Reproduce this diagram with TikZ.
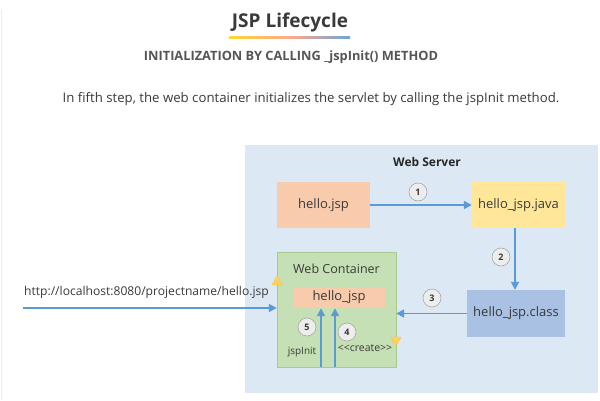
\documentclass[tikz,border=0pt]{standalone}
\usepackage{fontspec}
\setmainfont{Open Sans}
\usetikzlibrary{arrows.meta,shapes.geometric}
\definecolor{srvbg}{HTML}{DCE9F5}
\definecolor{jspor}{HTML}{F8CBAD}
\definecolor{javay}{HTML}{FFE699}
\definecolor{clsbl}{HTML}{A9C1E3}
\definecolor{wcgr}{HTML}{C5E0B4}
\definecolor{wcbd}{HTML}{A9C98F}
\definecolor{arrbl}{HTML}{5B9BD5}
\definecolor{txtd}{HTML}{3A3A3A}
\definecolor{subg}{HTML}{555555}
\definecolor{circf}{HTML}{EDEDED}
\definecolor{trig}{HTML}{FFD54F}
\tikzset{
  px/.style={x=1pt,y=-1pt},
  filebox/.style={minimum width=#1, inner sep=0pt, font=\fontsize{13}{15}\selectfont, text=txtd},
  conn/.style={draw=arrbl, line width=1.7pt, -{Triangle[length=8pt,width=8pt]}},
  stepnum/.style={circle, draw=gray!70, line width=0.6pt, fill=circf, minimum size=18pt, inner sep=0pt, font=\fontsize{9}{10}\selectfont\bfseries, text=txtd},
  smalllbl/.style={font=\fontsize{10}{11}\selectfont, text=txtd, inner sep=0pt},
  tri/.style={regular polygon, regular polygon sides=3, fill=trig, draw=orange!60, line width=0.3pt, inner sep=0pt, minimum size=12pt}
}
\begin{document}
\begin{tikzpicture}[px]
\useasboundingbox (0,0) rectangle (600,400);
\fill[white] (0,0) rectangle (600,400);
% left edge faint marks
\draw[gray!15, line width=1pt] (1.5,10) -- (1.5,400);
\draw[javay!70, line width=1.5pt] (1.5,215) -- (1.5,265);
% title
\node[font=\fontsize{19}{22}\selectfont\bfseries, text=txtd, inner sep=0pt, anchor=base] (title) at (290,27) {JSP Lifecycle};
\shade[left color=orange!40!yellow!80, right color=orange!50!red!45] (229,36.5) rectangle (290,38);
\shade[left color=orange!50!red!45, right color=arrbl!90] (290,36.5) rectangle (350,38);
\node[font=\fontsize{12.8}{15}\selectfont\bfseries, text=subg, inner sep=0pt, anchor=base] (sub) at (291,60) {INITIALIZATION BY CALLING \_jspInit() METHOD};
\node[font=\fontsize{13.2}{16}\selectfont, text=txtd, inner sep=0pt, anchor=base] (desc) at (311,102) {In fifth step, the web container initializes the servlet by calling the jspInit method.};
% web server
\fill[srvbg] (245,145) rectangle (598,393);
\node[font=\fontsize{12}{14}\selectfont\bfseries, text=black!85, anchor=base, inner sep=0pt] (ws) at (427,166) {Web Server};
% boxes
\node[filebox=93pt, minimum height=46pt, fill=jspor] (jsp) at (323.5,205) {hello.jsp};
\node[filebox=93pt, minimum height=46pt, fill=javay] (java) at (518.5,205) {hello\_jsp.java};
\node[filebox=98pt, minimum height=47pt, fill=clsbl] (cls) at (516,313.5) {hello\_jsp.class};
% web container
\node[draw=wcbd, fill=wcgr, minimum width=119pt, minimum height=115pt, inner sep=0pt] (wc) at (336.5,309.5) {};
\node[font=\fontsize{12.5}{14}\selectfont, text=txtd, anchor=base, inner sep=0pt] (wclbl) at (336.5,273) {Web Container};
\node[filebox=92pt, minimum height=21pt, fill=jspor] (hj) at (339,297.5) {hello\_jsp};
% arrows
\draw[conn] (jsp.east) -- (java.west);
\draw[conn] (java.south -| 515,0) -- (cls.north -| 515,0);
\draw[conn] (cls.west) -- (wc.east |- cls.west);
\coordinate (urlstart) at (23,308);
\draw[conn] (urlstart) -- (wc.west |- urlstart);
\node[font=\fontsize{12.1}{13}\selectfont, text=txtd, anchor=base west, inner sep=0pt] (url) at (24,295) {http://localhost:8080/projectname/hello.jsp};
\draw[conn] (wc.south -| 321,0) -- (hj.south -| 321,0);
\draw[conn] (wc.south -| 335,0) -- (hj.south -| 335,0);
% step numbers
\node[stepnum] (s1) at (418,192) {1};
\node[stepnum] (s2) at (501,257) {2};
\node[stepnum] (s3) at (432,298) {3};
\node[stepnum] (s5) at (307,327) {5};
\node[stepnum] (s4) at (347,332) {4};
\node[smalllbl, anchor=base] (ji) at (302,354) {jspInit};
\node[smalllbl, font=\fontsize{10.5}{12}\selectfont, anchor=base] (cr) at (365,351) {<{}<create>{}>};
% triangles
\node[tri, shape border rotate=0] (t1) at (277,282) {};
\node[tri, shape border rotate=180] (t2) at (396,340) {};
\end{tikzpicture}
\end{document}
